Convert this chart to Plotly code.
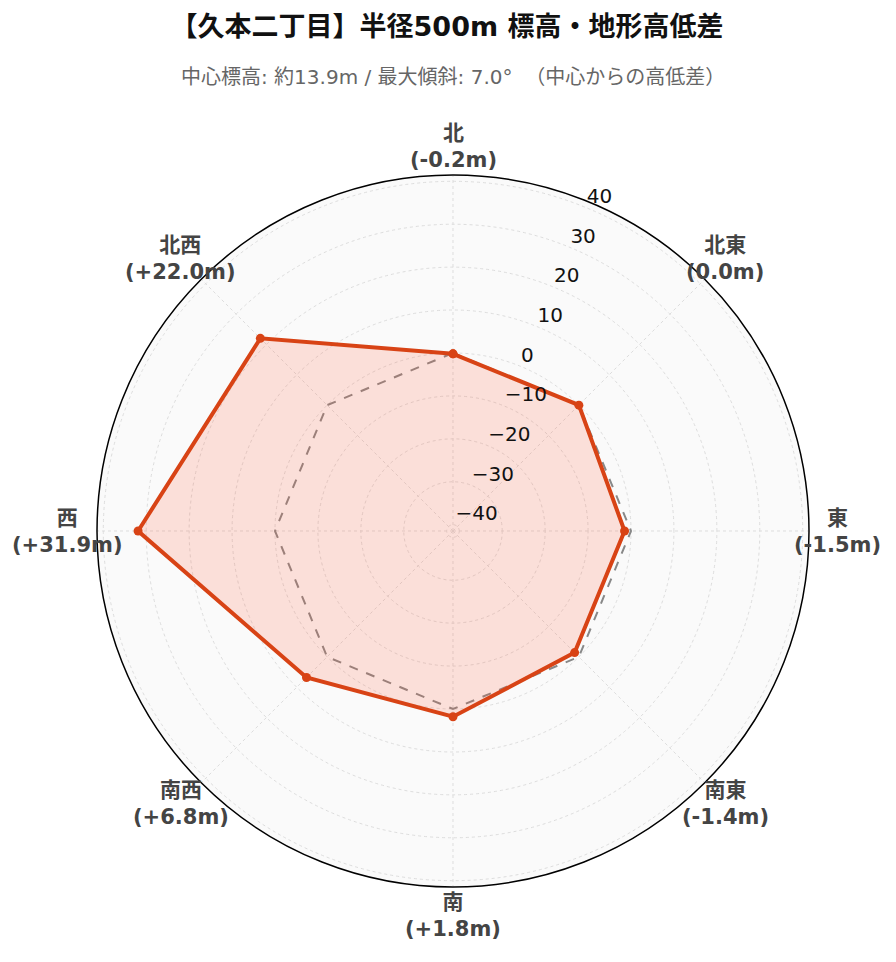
import math
import plotly.graph_objects as go

# 方位ごとの高低差（中心からの差, m）
directions = ['北', '北東', '東', '南東', '南', '南西', '西', '北西']
diffs = [-0.2, 0.0, -1.5, -1.4, 1.8, 6.8, 31.9, 22.0]
baseline = [0, 0, 0, 0, 0, 0, 0, 0]
radial_ticks = [-40, -30, -20, -10, 0, 10, 20, 30, 40]

center_elev = 13.9
max_slope = 7.0
area_name = '久本二丁目'

angles = [i * 360 / len(directions) for i in range(len(directions))]
labels = [f'<b>{d}<br>({v:+.1f}m)</b>' if v != 0 else f'<b>{d}<br>({v:.1f}m)</b>'
          for d, v in zip(directions, diffs)]

rmax = max(abs(v) for v in diffs) * 1.3
tick_theta = 22.5  # 目盛ラベルを並べる方向（北から時計回り）

fig = go.Figure()
fig.add_trace(go.Scatterpolar(
    r=baseline + baseline[:1],
    theta=angles + angles[:1],
    mode='lines',
    line=dict(color='#888888', width=2, dash='dash'),
    hoverinfo='skip',
    showlegend=False,
))
fig.add_trace(go.Scatterpolar(
    r=diffs + diffs[:1],
    theta=angles + angles[:1],
    mode='lines+markers',
    fill='toself',
    fillcolor='rgba(255, 87, 51, 0.17)',
    line=dict(color='#D84315', width=4),
    marker=dict(size=9, color='#D84315'),
    customdata=directions + directions[:1],
    hovertemplate='%{customdata}: %{r:+.1f}m<extra></extra>',
    showlegend=False,
))
# 半径方向の目盛ラベル
fig.add_trace(go.Scatterpolar(
    r=radial_ticks,
    theta=[tick_theta] * len(radial_ticks),
    mode='text',
    text=[str(t).replace('-', '\u2212') for t in radial_ticks],
    textposition='top right',
    textfont=dict(size=20, color='#111111'),
    hoverinfo='skip',
    showlegend=False,
))

# 方位ラベル（外周の少し外側）
label_r = 385 / 712
annotations = [dict(
    text=lab, xref='paper', yref='paper',
    x=0.5 + label_r * math.sin(math.radians(a)),
    y=0.5 + label_r * math.cos(math.radians(a)),
    xanchor='center', yanchor='middle', showarrow=False,
    font=dict(size=21, color='#444444'),
) for lab, a in zip(labels, angles)]

annotations.append(dict(
    text=f'中心標高: 約{center_elev}m / 最大傾斜: {max_slope}°  （中心からの高低差）',
    xref='paper', yref='paper', x=0.5, y=(887 - 77) / 712,
    xanchor='center', yanchor='middle', showarrow=False,
    font=dict(size=20, color='#666666'),
))

fig.update_layout(
    width=896, height=962,
    font=dict(family='DejaVu Sans, Noto Sans CJK JP', color='#222'),
    title=dict(
        text=f'<b>【{area_name}】半径500m 標高・地形高低差</b>',
        x=0.49, xanchor='center', y=1 - 19 / 962, yanchor='middle',
        font=dict(size=27, color='#111'),
    ),
    annotations=annotations,
    paper_bgcolor='white',
    margin=dict(l=89, r=95, t=167, b=83),
    polar=dict(
        bgcolor='#fafafa',
        radialaxis=dict(
            range=[-rmax, rmax],
            tickvals=radial_ticks,
            showticklabels=False,
            showline=False,
            gridcolor='#dddddd',
            griddash='dot',
            ticks='',
        ),
        angularaxis=dict(
            type='linear',
            thetaunit='degrees',
            rotation=90,
            direction='clockwise',
            tickmode='array',
            tickvals=angles,
            showticklabels=False,
            gridcolor='#dddddd',
            griddash='dot',
            linecolor='black',
            linewidth=1.5,
            ticks='',
        ),
    ),
)

fig.write_html('out.html')
